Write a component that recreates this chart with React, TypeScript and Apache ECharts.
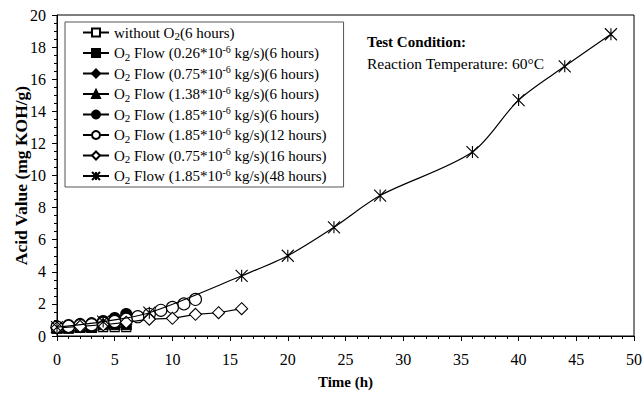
import React, { useEffect, useRef } from 'react';
import * as echarts from 'echarts';

const FONT = '"Liberation Serif", "Times New Roman", serif';

// ---- data ----
const hours6 = [0, 1, 2, 3, 4, 5, 6];
const hours12 = [0, 1, 2, 3, 4, 5, 6, 7, 8, 9, 10, 11, 12];
const hours16 = [0, 2, 4, 6, 8, 10, 12, 14, 16];
const hours48 = [0, 4, 8, 16, 20, 24, 28, 36, 40, 44, 48];

const noO2 = [0.45, 0.45, 0.5, 0.5, 0.55, 0.55, 0.55];
const flow026 = [0.5, 0.5, 0.55, 0.55, 0.7, 0.7, 0.7];
const flow075h6 = [0.55, 0.55, 0.6, 0.65, 0.75, 0.85, 0.9];
const flow138 = [0.55, 0.6, 0.65, 0.7, 0.85, 0.95, 1.1];
const flow185h6 = [0.6, 0.68, 0.75, 0.8, 0.93, 1.12, 1.37];
const flow185h12 = [0.55, 0.6, 0.65, 0.7, 0.8, 0.9, 1.05, 1.2, 1.35, 1.6, 1.78, 2.0, 2.28];
const flow075h16 = [0.5, 0.6, 0.7, 0.85, 1.05, 1.1, 1.35, 1.45, 1.7];
const flow185h48 = [0.55, 0.9, 1.45, 3.75, 5.0, 6.77, 8.75, 11.46, 14.7, 16.8, 18.8];

const seriesNames = [
  'without O2 (6 hours)',
  'O2 Flow (0.26*10-6 kg/s)(6 hours)',
  'O2 Flow (0.75*10-6 kg/s)(6 hours)',
  'O2 Flow (1.38*10-6 kg/s)(6 hours)',
  'O2 Flow (1.85*10-6 kg/s)(6 hours)',
  'O2 Flow (1.85*10-6 kg/s)(12 hours)',
  'O2 Flow (0.75*10-6 kg/s)(16 hours)',
  'O2 Flow (1.85*10-6 kg/s)(48 hours)',
];

const legendRich = [
  '{t|without O}{sub|2}{t|(6 hours)}',
  '{t|O}{sub|2}{t| Flow (0.26*10}{sup|-6}{t| kg/s)(6 hours)}',
  '{t|O}{sub|2}{t| Flow (0.75*10}{sup|-6}{t| kg/s)(6 hours)}',
  '{t|O}{sub|2}{t| Flow (1.38*10}{sup|-6}{t| kg/s)(6 hours)}',
  '{t|O}{sub|2}{t| Flow (1.85*10}{sup|-6}{t| kg/s)(6 hours)}',
  '{t|O}{sub|2}{t| Flow (1.85*10}{sup|-6}{t| kg/s)(12 hours)}',
  '{t|O}{sub|2}{t| Flow (0.75*10}{sup|-6}{t| kg/s)(16 hours)}',
  '{t|O}{sub|2}{t| Flow (1.85*10}{sup|-6}{t| kg/s)(48 hours)}',
];

const STAR = 'path://M0,0L10,10M10,0L0,10M5,0L5,10';

const zip = (xs: number[], ys: number[]) => xs.map((x, i) => [x, ys[i]]);

export default function App() {
  const ref = useRef<HTMLDivElement>(null);
  useEffect(() => {
    const chart = echarts.init(ref.current!, null, { renderer: 'svg' });
    const mk = (
      idx: number,
      xs: number[],
      ys: number[],
      symbol: string,
      size: number,
      filled: boolean,
      smooth: boolean | number = false
    ) => ({
      type: 'line',
      name: seriesNames[idx],
      data: zip(xs, ys),
      symbol,
      symbolSize: size,
      showSymbol: true,
      smooth,
      z: 2 + idx,
      lineStyle: { color: '#000', width: 1.2 },
      itemStyle: {
        color: filled ? '#000' : '#fff',
        borderColor: '#000',
        borderWidth: 1.1,
      },
      emphasis: { disabled: true },
    });

    const option: any = {
      animation: false,
      backgroundColor: '#fff',
      textStyle: { fontFamily: FONT },
      grid: {
        left: 57,
        right: 10,
        top: 15,
        bottom: 59,
        containLabel: false,
        outerBoundsMode: 'none',
        show: true,
        borderColor: '#000',
        borderWidth: 1,
      },
      xAxis: {
        type: 'value',
        min: 0,
        max: 50,
        interval: 5,
        name: 'Time (h)',
        nameLocation: 'middle',
        nameGap: 38,
        nameMoveOverlap: false,
        nameTextStyle: { fontFamily: FONT, fontSize: 15, fontWeight: 'bold', color: '#000' },
        axisLine: { lineStyle: { color: '#000', width: 1 } },
        axisTick: { show: true, inside: false, length: 5, lineStyle: { color: '#000' } },
        minorTick: { show: true, splitNumber: 5, length: 3, lineStyle: { color: '#000' } },
        splitLine: { show: false },
        axisLabel: { fontFamily: FONT, fontSize: 16, color: '#000', margin: 15 },
      },
      yAxis: {
        type: 'value',
        min: 0,
        max: 20,
        interval: 2,
        name: 'Acid Value (mg KOH/g)',
        nameLocation: 'middle',
        nameGap: 27,
        nameRotate: 90,
        nameMoveOverlap: false,
        nameTextStyle: { fontFamily: FONT, fontSize: 17.5, fontWeight: 'bold', color: '#000' },
        axisLine: { show: true, lineStyle: { color: '#000', width: 1 } },
        axisTick: { show: true, inside: false, length: 5, lineStyle: { color: '#000' } },
        minorTick: { show: true, splitNumber: 4, length: 3, lineStyle: { color: '#000' } },
        splitLine: { show: false },
        axisLabel: { fontFamily: FONT, fontSize: 16, color: '#000', margin: 11 },
      },
      legend: {
        orient: 'vertical',
        left: 65,
        top: 22,
        padding: [3, 17, 2, 17],
        itemGap: 2.5,
        itemWidth: 26,
        itemHeight: 10,
        selectedMode: false,
        borderColor: '#555',
        borderWidth: 1,
        backgroundColor: '#fff',
        data: seriesNames,
        formatter: (name: string) => legendRich[seriesNames.indexOf(name)],
        textStyle: {
          fontFamily: FONT,
          color: '#000',
          rich: {
            t: { fontFamily: FONT, fontSize: 15, color: '#000', lineHeight: 18 },
            sub: { fontFamily: FONT, fontSize: 11, color: '#000', lineHeight: 10, verticalAlign: 'bottom' },
            sup: { fontFamily: FONT, fontSize: 10, color: '#000', lineHeight: 8, verticalAlign: 'top' },
          },
        },
      },
      graphic: [
        {
          type: 'text',
          left: 367,
          top: 34,
          style: { text: 'Test Condition:', font: `bold 15px ${FONT}`, fill: '#000' },
        },
        {
          type: 'text',
          left: 367,
          top: 55,
          style: { text: 'Reaction Temperature: 60°C', font: `15.5px ${FONT}`, fill: '#000' },
        },
      ],
      series: [
        mk(0, hours6, noO2, 'rect', 9, false),
        mk(1, hours6, flow026, 'rect', 10, true),
        mk(2, hours6, flow075h6, 'diamond', 12, true),
        mk(3, hours6, flow138, 'triangle', 11, true),
        mk(4, hours6, flow185h6, 'circle', 11, true),
        mk(5, hours12, flow185h12, 'circle', 12, false),
        mk(6, hours16, flow075h16, 'diamond', 12, false),
        mk(7, hours48, flow185h48, STAR, 12, false, 0.3),
      ],
    };
    chart.setOption(option);
    return () => chart.dispose();
  }, []);
  return <div ref={ref} style={{ position: 'absolute', left: 0, top: 0, width: 644, height: 395 }} />;
}
